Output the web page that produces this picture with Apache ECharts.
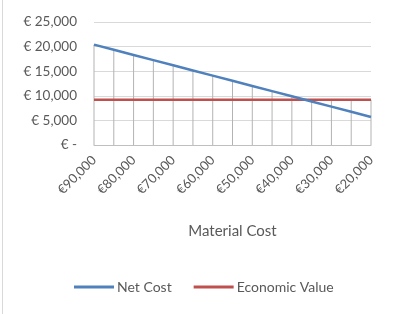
<!DOCTYPE html>
<html>
<head>
<meta charset="utf-8">
<script src="https://cdn.jsdelivr.net/npm/echarts@6/dist/echarts.min.js"></script>
<style>
  html, body { margin: 0; padding: 0; background: #fff; }
  #main { width: 404px; height: 314px; margin-left: 2px; border-left: 1px solid #d9d9d9; box-sizing: border-box; }
</style>
</head>
<body>
<div id="main"></div>
<script>
// material cost steps (x axis)
const materialCost = ['€90,000', '€85,000', '€80,000', '€75,000', '€70,000', '€65,000', '€60,000', '€55,000',
  '€50,000', '€45,000', '€40,000', '€35,000', '€30,000', '€25,000', '€20,000'];
const netCost = [20400, 19350, 18300, 17250, 16200, 15150, 14100, 13050, 12000, 10950, 9900, 8850, 7800, 6750, 5700];
const economicValue = [9200, 9200, 9200, 9200, 9200, 9200, 9200, 9200, 9200, 9200, 9200, 9200, 9200, 9200, 9200];
const yTicks = [0, 5000, 10000, 15000, 20000, 25000];

// drop lines go from the highest point down to the axis
const dropLines = netCost.map((v, i) => Math.max(v, economicValue[i]));

const txt = '#595959';
const font = 'Lato, "Open Sans", sans-serif';

var chart = echarts.init(document.getElementById('main'), null, { renderer: 'canvas' });

var option = {
  animation: false,
  backgroundColor: '#fff',
  textStyle: { fontFamily: font },
  grid: { left: 91, right: 35, top: 22, bottom: 169 },
  legend: {
    bottom: 15,
    left: 66,
    itemWidth: 40,
    itemHeight: 3,
    itemGap: 22,
    icon: 'rect',
    textStyle: { color: txt, fontSize: 14, fontFamily: font, padding: [0, 0, 0, -2] },
    data: ['Net Cost', 'Economic Value']
  },
  xAxis: {
    type: 'category',
    data: materialCost,
    boundaryGap: false,
    name: 'Material Cost',
    nameLocation: 'middle',
    nameGap: 79,
    nameTextStyle: { color: txt, fontSize: 15, fontFamily: font },
    axisLine: { show: true, lineStyle: { color: '#bfbfbf', width: 1 } },
    axisTick: { show: false },
    axisLabel: { interval: 1, rotate: 45, color: txt, fontSize: 13, fontFamily: font, margin: 13 },
    splitLine: { show: false }
  },
  yAxis: {
    type: 'value',
    min: yTicks[0],
    max: yTicks[yTicks.length - 1],
    interval: 5000,
    axisLine: { show: false },
    axisTick: { show: false },
    axisLabel: {
      color: txt, fontSize: 13.5, fontFamily: font, margin: 17,
      formatter: v => v === 0 ? '€ -' : '€ ' + v.toLocaleString('en-US')
    },
    splitLine: { lineStyle: { color: '#d9d9d9', width: 1 } }
  },
  series: [
    {
      name: 'drop',
      type: 'bar',
      data: dropLines,
      barWidth: 1,
      itemStyle: { color: '#b3b3b3' },
      silent: true,
      z: 1
    },
    {
      name: 'Economic Value',
      type: 'line',
      data: economicValue,
      symbol: 'none',
      lineStyle: { color: '#c0504d', width: 2.5 },
      itemStyle: { color: '#c0504d' },
      z: 3
    },
    {
      name: 'Net Cost',
      type: 'line',
      data: netCost,
      symbol: 'none',
      lineStyle: { color: '#4f81bd', width: 2.5 },
      itemStyle: { color: '#4f81bd' },
      z: 4
    }
  ]
};

option && chart.setOption(option, true);
window.onresize = () => {
  chart.resize();
};
</script>
</body>
</html>
